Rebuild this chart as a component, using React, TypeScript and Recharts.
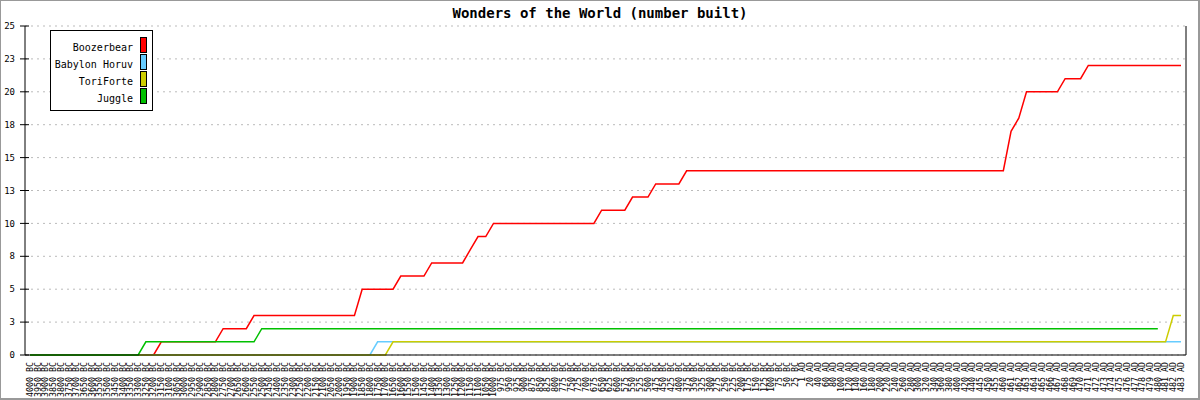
import React from "react";
import { LineChart, Line, XAxis, YAxis, CartesianGrid } from "recharts";

const categories = [
  "4000 BC", "3950 BC", "3900 BC", "3850 BC", "3800 BC", "3750 BC", "3700 BC", "3650 BC", "3600 BC", "3550 BC",
  "3500 BC", "3450 BC", "3400 BC", "3350 BC", "3300 BC", "3250 BC", "3200 BC", "3150 BC", "3100 BC", "3050 BC",
  "3000 BC", "2950 BC", "2900 BC", "2850 BC", "2800 BC", "2750 BC", "2700 BC", "2650 BC", "2600 BC", "2550 BC",
  "2500 BC", "2450 BC", "2400 BC", "2350 BC", "2300 BC", "2250 BC", "2200 BC", "2150 BC", "2100 BC", "2050 BC",
  "2000 BC", "1950 BC", "1900 BC", "1850 BC", "1800 BC", "1750 BC", "1700 BC", "1650 BC", "1600 BC", "1550 BC",
  "1500 BC", "1450 BC", "1400 BC", "1350 BC", "1300 BC", "1250 BC", "1200 BC", "1150 BC", "1100 BC", "1050 BC",
  "1000 BC", "975 BC", "950 BC", "925 BC", "900 BC", "875 BC", "850 BC", "825 BC", "800 BC", "775 BC",
  "750 BC", "725 BC", "700 BC", "675 BC", "650 BC", "625 BC", "600 BC", "575 BC", "550 BC", "525 BC",
  "500 BC", "475 BC", "450 BC", "425 BC", "400 BC", "375 BC", "350 BC", "325 BC", "300 BC", "275 BC",
  "250 BC", "225 BC", "200 BC", "175 BC", "150 BC", "125 BC", "100 BC", "75 BC", "50 BC", "25 BC",
  "1 AD", "20 AD", "40 AD", "60 AD", "80 AD", "100 AD", "120 AD", "140 AD", "160 AD", "180 AD",
  "200 AD", "220 AD", "240 AD", "260 AD", "280 AD", "300 AD", "320 AD", "340 AD", "360 AD", "380 AD",
  "400 AD", "420 AD", "440 AD", "445 AD", "450 AD", "455 AD", "460 AD", "461 AD", "462 AD", "463 AD",
  "464 AD", "465 AD", "466 AD", "467 AD", "468 AD", "469 AD", "470 AD", "471 AD", "472 AD", "473 AD",
  "474 AD", "475 AD", "476 AD", "477 AD", "478 AD", "479 AD", "480 AD", "481 AD", "482 AD", "483 AD",
];

const boozerbear = [
  0, 0, 0, 0, 0, 0, 0, 0, 0, 0,
  0, 0, 0, 0, 0, 0, 0, 1, 1, 1,
  1, 1, 1, 1, 1, 2, 2, 2, 2, 3,
  3, 3, 3, 3, 3, 3, 3, 3, 3, 3,
  3, 3, 3, 5, 5, 5, 5, 5, 6, 6,
  6, 6, 7, 7, 7, 7, 7, 8, 9, 9,
  10, 10, 10, 10, 10, 10, 10, 10, 10, 10,
  10, 10, 10, 10, 11, 11, 11, 11, 12, 12,
  12, 13, 13, 13, 13, 14, 14, 14, 14, 14,
  14, 14, 14, 14, 14, 14, 14, 14, 14, 14,
  14, 14, 14, 14, 14, 14, 14, 14, 14, 14,
  14, 14, 14, 14, 14, 14, 14, 14, 14, 14,
  14, 14, 14, 14, 14, 14, 14, 17, 18, 20,
  20, 20, 20, 20, 21, 21, 21, 22, 22, 22,
  22, 22, 22, 22, 22, 22, 22, 22, 22, 22,
];

const babylonHoruv = [
  0, 0, 0, 0, 0, 0, 0, 0, 0, 0,
  0, 0, 0, 0, 0, 0, 0, 0, 0, 0,
  0, 0, 0, 0, 0, 0, 0, 0, 0, 0,
  0, 0, 0, 0, 0, 0, 0, 0, 0, 0,
  0, 0, 0, 0, 0, 1, 1, 1, 1, 1,
  1, 1, 1, 1, 1, 1, 1, 1, 1, 1,
  1, 1, 1, 1, 1, 1, 1, 1, 1, 1,
  1, 1, 1, 1, 1, 1, 1, 1, 1, 1,
  1, 1, 1, 1, 1, 1, 1, 1, 1, 1,
  1, 1, 1, 1, 1, 1, 1, 1, 1, 1,
  1, 1, 1, 1, 1, 1, 1, 1, 1, 1,
  1, 1, 1, 1, 1, 1, 1, 1, 1, 1,
  1, 1, 1, 1, 1, 1, 1, 1, 1, 1,
  1, 1, 1, 1, 1, 1, 1, 1, 1, 1,
  1, 1, 1, 1, 1, 1, 1, 1, 1, 1,
];

const toriForte = [
  0, 0, 0, 0, 0, 0, 0, 0, 0, 0,
  0, 0, 0, 0, 0, 0, 0, 0, 0, 0,
  0, 0, 0, 0, 0, 0, 0, 0, 0, 0,
  0, 0, 0, 0, 0, 0, 0, 0, 0, 0,
  0, 0, 0, 0, 0, 0, 0, 1, 1, 1,
  1, 1, 1, 1, 1, 1, 1, 1, 1, 1,
  1, 1, 1, 1, 1, 1, 1, 1, 1, 1,
  1, 1, 1, 1, 1, 1, 1, 1, 1, 1,
  1, 1, 1, 1, 1, 1, 1, 1, 1, 1,
  1, 1, 1, 1, 1, 1, 1, 1, 1, 1,
  1, 1, 1, 1, 1, 1, 1, 1, 1, 1,
  1, 1, 1, 1, 1, 1, 1, 1, 1, 1,
  1, 1, 1, 1, 1, 1, 1, 1, 1, 1,
  1, 1, 1, 1, 1, 1, 1, 1, 1, 1,
  1, 1, 1, 1, 1, 1, 1, 1, 3, 3,
];

const juggle = [
  0, 0, 0, 0, 0, 0, 0, 0, 0, 0,
  0, 0, 0, 0, 0, 1, 1, 1, 1, 1,
  1, 1, 1, 1, 1, 1, 1, 1, 1, 1,
  2, 2, 2, 2, 2, 2, 2, 2, 2, 2,
  2, 2, 2, 2, 2, 2, 2, 2, 2, 2,
  2, 2, 2, 2, 2, 2, 2, 2, 2, 2,
  2, 2, 2, 2, 2, 2, 2, 2, 2, 2,
  2, 2, 2, 2, 2, 2, 2, 2, 2, 2,
  2, 2, 2, 2, 2, 2, 2, 2, 2, 2,
  2, 2, 2, 2, 2, 2, 2, 2, 2, 2,
  2, 2, 2, 2, 2, 2, 2, 2, 2, 2,
  2, 2, 2, 2, 2, 2, 2, 2, 2, 2,
  2, 2, 2, 2, 2, 2, 2, 2, 2, 2,
  2, 2, 2, 2, 2, 2, 2, 2, 2, 2,
  2, 2, 2, 2, 2, 2, 2, null, null, null,
];

const yTicks = [0, 2.5, 5, 7.5, 10, 12.5, 15, 17.5, 20, 22.5, 25];

const SERIES = [
  { key: "boozerbear", name: "Boozerbear", color: "#ff0000", values: boozerbear },
  { key: "babylonHoruv", name: "Babylon Horuv", color: "#66ccff", values: babylonHoruv },
  { key: "toriForte", name: "ToriForte", color: "#cccc00", values: toriForte },
  { key: "juggle", name: "Juggle", color: "#00c000", values: juggle },
];

const FONT = "'DejaVu Sans Mono', 'Liberation Mono', monospace";

const data = categories.map((name, i) => {
  const row: Record<string, string | number | null> = { name };
  SERIES.forEach((s) => {
    row[s.key] = s.values[i];
  });
  return row;
});

const XTick = (props: any) => {
  const { x, y, payload } = props;
  const ty = y + 7;
  return (
    <text
      x={x}
      y={ty}
      dy="0.35em"
      textAnchor="end"
      transform={`rotate(-90, ${x}, ${ty})`}
      fontFamily={FONT}
      fontSize={8.3}
      fill="#000"
    >
      {payload.value}
    </text>
  );
};

const YTick = (props: any) => {
  const { x, y, payload } = props;
  return (
    <g>
      <line x1={x - 5} x2={x + 4} y1={y} y2={y} stroke="#000" />
      <text x={x - 10} y={y} dy="0.35em" textAnchor="end" fontFamily={FONT} fontSize={9} fill="#000">
        {Math.round(payload.value)}
      </text>
    </g>
  );
};

export default function App() {
  return (
    <div style={{ position: "absolute", left: 0, top: 0, width: 1200, height: 400, background: "#fff" }}>
      <LineChart width={1200} height={400} data={data} margin={{ top: 26, right: 13, bottom: 0, left: 0 }}>
        <CartesianGrid yAxisId="left" vertical={false} stroke="#bbbbbb" strokeDasharray="2 4" />
        <XAxis
          dataKey="name"
          interval={0}
          height={45}
          padding={{ left: 5, right: 5 }}
          axisLine={{ stroke: "#000" }}
          tickLine={false}
          tickSize={0}
          tickMargin={0}
          tick={<XTick />}
        />
        <YAxis
          yAxisId="left"
          width={25}
          domain={[0, 25]}
          ticks={yTicks}
          axisLine={{ stroke: "#000" }}
          tickLine={false}
          tickSize={0}
          tickMargin={0}
          tick={<YTick />}
        />
        <YAxis
          yAxisId="right"
          orientation="right"
          width={1}
          domain={[0, 25]}
          ticks={yTicks}
          axisLine={{ stroke: "#000" }}
          tickLine={false}
          tick={false}
        />
        {SERIES.map((s) => (
          <Line
            key={s.key}
            yAxisId="left"
            type="linear"
            dataKey={s.key}
            name={s.name}
            stroke={s.color}
            strokeWidth={1.5}
            dot={false}
            activeDot={false}
            isAnimationActive={false}
          />
        ))}
        <Line
          yAxisId="right"
          dataKey="juggle"
          stroke="none"
          dot={false}
          activeDot={false}
          legendType="none"
          isAnimationActive={false}
        />
      </LineChart>

      <div
        style={{
          position: "absolute",
          top: 6,
          left: 0,
          width: 1200,
          textAlign: "center",
          fontFamily: FONT,
          fontWeight: "bold",
          fontSize: 14,
          lineHeight: "14px",
          color: "#000",
        }}
      >
        Wonders of the World (number built)
      </div>

      <div
        style={{
          position: "absolute",
          left: 50,
          top: 30,
          width: 103,
          height: 81,
          boxSizing: "border-box",
          border: "1px solid #000",
          background: "#fff",
          fontFamily: FONT,
          fontSize: 10,
        }}
      >
        {SERIES.map((s, k) => (
          <React.Fragment key={s.key}>
            <div
              style={{
                position: "absolute",
                left: 0,
                top: 6 + 17 * k + 3,
                width: 82,
                textAlign: "right",
                lineHeight: "15px",
                whiteSpace: "nowrap",
                color: "#000",
              }}
            >
              {s.name}
            </div>
            <div
              style={{
                position: "absolute",
                left: 89,
                top: 6 + 17 * k,
                width: 7,
                height: 16,
                boxSizing: "border-box",
                border: "1px solid #000",
                background: s.color,
              }}
            />
          </React.Fragment>
        ))}
      </div>

      <div
        style={{
          position: "absolute",
          left: 0,
          top: 0,
          width: 1200,
          height: 400,
          boxSizing: "border-box",
          borderTop: "1px solid #999",
          borderLeft: "1px solid #999",
          borderRight: "2px solid #999",
          borderBottom: "2px solid #999",
          pointerEvents: "none",
        }}
      />
    </div>
  );
}
